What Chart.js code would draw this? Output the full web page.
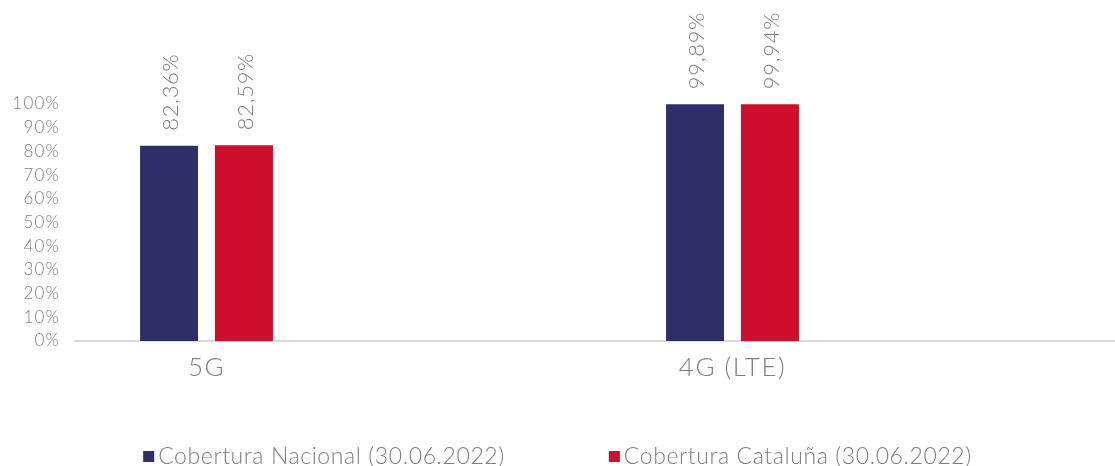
<!DOCTYPE html>
<html>
<head>
<meta charset="utf-8">
<script src="https://cdn.jsdelivr.net/npm/chart.js@4.4.0/dist/chart.umd.min.js"></script>
<style>
  html, body { margin: 0; padding: 0; background: #fff; overflow: hidden; }
  #wrap { width: 1127px; height: 466px; }
</style>
</head>
<body>
<div id="wrap"><canvas id="grafico" width="1127" height="466"></canvas></div>
<script>
// Datos del gráfico (dos huecos vacíos como en el original)
const categorias = ['5G', '', '4G (LTE)', ''];
const nacional = [82.36, null, 99.89, null];
const cataluna = [82.59, null, 99.94, null];
const series = ['Cobertura Nacional (30.06.2022)', 'Cobertura Cataluña (30.06.2022)'];
const colores = ['#2f2e69', '#cd0e2d'];
const ticksY = [0, 10, 20, 30, 40, 50, 60, 70, 80, 90, 100];

const fuente = 'Lato, "Open Sans", sans-serif';
const gris = '#7f7f7f';

// Espaciado de letras en las etiquetas de los ejes (la fuente original es más ancha)
const espaciado = {
    id: 'espaciado',
    afterLayout(chart) {
        const sep = { x: '1.5px', y: '1.2px' };
        ['x', 'y'].forEach(function (id) {
            const s = chart.scales[id];
            if (s._parcheado) return;
            const orig = s.drawLabels;
            s.drawLabels = function (area) {
                this.ctx.save();
                this.ctx.letterSpacing = sep[id];
                orig.call(this, area);
                this.ctx.restore();
            };
            s._parcheado = true;
        });
    }
};

// Etiquetas verticales encima de cada barra
const etiquetas = {
    id: 'etiquetas',
    afterDatasetsDraw(chart) {
        const ctx = chart.ctx;
        ctx.save();
        ctx.font = '300 22px ' + fuente;
        ctx.letterSpacing = '0.7px';
        ctx.fillStyle = gris;
        ctx.textAlign = 'left';
        ctx.textBaseline = 'middle';
        chart.data.datasets.forEach(function (ds, i) {
            chart.getDatasetMeta(i).data.forEach(function (bar, j) {
                const v = ds.data[j];
                if (v === null) return;
                const txt = v.toFixed(2).replace('.', ',') + '%';
                ctx.save();
                ctx.translate(bar.x + 2, bar.y - 15);
                ctx.rotate(-Math.PI / 2);
                ctx.fillText(txt, 0, 0);
                ctx.restore();
            });
        });
        ctx.restore();
    }
};

// Leyenda dibujada a mano, centrada en la ventana
const leyenda = {
    id: 'leyenda',
    afterDraw(chart) {
        const ctx = chart.ctx;
        ctx.save();
        ctx.font = '300 23px ' + fuente;
        ctx.letterSpacing = '0.6px';
        ctx.textBaseline = 'middle';
        const caja = 11, sep = 4, hueco = 104;
        const anchos = series.map(s => ctx.measureText(s).width);
        let total = hueco;
        anchos.forEach(w => total += caja + sep + w);
        let x = (1115 - total) / 2;
        const y = 457;
        series.forEach(function (s, i) {
            ctx.fillStyle = colores[i];
            ctx.fillRect(x, y - 6, caja, caja);
            ctx.fillStyle = gris;
            ctx.fillText(s, x + caja + sep, y);
            x += caja + sep + anchos[i] + hueco;
        });
        ctx.restore();
    }
};

const ctx1 = document.getElementById('grafico').getContext('2d');
new Chart(ctx1, {
    type: 'bar',
    data: {
        labels: categorias,
        datasets: [
            { label: series[0], data: nacional, backgroundColor: colores[0] },
            { label: series[1], data: cataluna, backgroundColor: colores[1] }
        ]
    },
    options: {
        responsive: false,
        animation: false,
        devicePixelRatio: 1,
        categoryPercentage: 0.57,
        barPercentage: 0.773,
        layout: { padding: { top: 104, right: 0, left: 0, bottom: 65 } },
        plugins: {
            legend: { display: false },
            tooltip: { enabled: false }
        },
        scales: {
            x: {
                grid: { display: false, drawTicks: false },
                border: { display: true, color: '#d9d9d9', width: 2 },
                ticks: { color: gris, font: { family: fuente, size: 26, weight: '300' }, padding: 11, maxRotation: 0, autoSkip: false },
                afterFit: function (scale) { scale.height = 60; }
            },
            y: {
                min: 0,
                max: 100,
                grid: { display: false, drawTicks: false },
                border: { display: false },
                afterBuildTicks: function (scale) { scale.ticks = ticksY.map(v => ({ value: v })); },
                ticks: {
                    color: gris,
                    font: { family: fuente, size: 17, weight: '300' },
                    padding: 15,
                    callback: v => v + '%'
                },
                afterFit: function (scale) { scale.width = 75; }
            }
        }
    },
    plugins: [espaciado, etiquetas, leyenda]
});
</script>
</body>
</html>
